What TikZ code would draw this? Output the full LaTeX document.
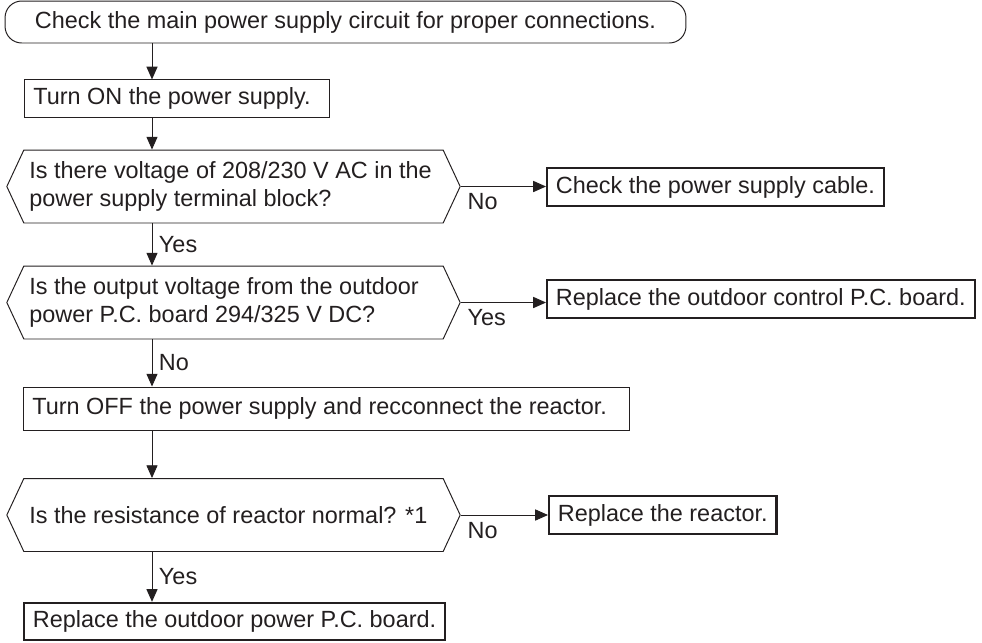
\documentclass[tikz,border=0pt]{standalone}
\usepackage{fontspec}
\setmainfont{Liberation Sans}
\usepackage{tikz}
\usetikzlibrary{arrows.meta,shapes.symbols}
\usepackage{xcolor}
\definecolor{ink}{RGB}{35,31,32}

\begin{document}
\begin{tikzpicture}[x=0.018cm,y=-0.018cm,>={Triangle[length=0.23cm,width=0.2cm]},
  every node/.style={font=\fontsize{12}{14.3}\selectfont,text=ink},
  box/.style={draw=ink,line width=0.5pt,anchor=west,inner xsep=0.16cm,minimum height=0.67cm,align=flush left},
  endbox/.style={box,line width=1.1pt},
  hexa/.style={draw=ink,line width=0.5pt,shape=signal,signal to=west and east,signal pointer angle=130,text width=7.35cm,inner xsep=0.1cm,minimum height=1.314cm,align=flush left},
  link/.style={->,draw=ink,line width=0.5pt}]
\useasboundingbox (0,0) rectangle (982,642);
\coordinate (col) at (152,0);
\node[draw=ink,line width=0.5pt,rounded corners=0.3cm,minimum width=12.26cm,minimum height=0.756cm] (start) at (345.5,22) {Check the main power supply circuit for proper connections.};
\node[box,text width=5.18cm] (on) at (24,98.5) {Turn ON the power supply.};
\node[hexa] (q1) at (233.5,186.5) {Is there voltage of 208/230 V AC in the\\power supply terminal block?};
\node[endbox] (cable) at (546,187) {Check the power supply cable.};
\node[hexa] (q2) at (233.5,302.5) {Is the output voltage from the outdoor\\power P.C. board 294/325 V DC?};
\node[endbox] (ctrl) at (546,299) {Replace the outdoor control P.C. board.};
\node[box,text width=10.6cm,minimum height=0.774cm] (off) at (23,408.5) {Turn OFF the power supply and recconnect the reactor.};
\node[hexa] (q3) at (233.5,515) {Is the resistance of reactor normal? *1};
\node[endbox] (reac) at (548,515) {Replace the reactor.};
\node[endbox] (pwr) at (23,621.5) {Replace the outdoor power P.C. board.};
\draw[link] (start.south -| col) -- (on.north -| col);
\draw[link] (on.south -| col) -- (q1.north -| col);
\draw[link] (q1.east) -- (q1.east -| cable.west) node[pos=0,anchor=north west]{No};
\draw[link] (q1.south -| col) -- (q2.north -| col) node[midway,right]{Yes};
\draw[link] (q2.east) -- (q2.east -| ctrl.west) node[pos=0,anchor=north west]{Yes};
\draw[link] (q2.south -| col) -- (off.north -| col) node[midway,right]{No};
\draw[link] (off.south -| col) -- (q3.north -| col);
\draw[link] (q3.east) -- (q3.east -| reac.west) node[pos=0,anchor=north west]{No};
\draw[link] (q3.south -| col) -- (pwr.north -| col) node[midway,right]{Yes};
\end{tikzpicture}
\end{document}
